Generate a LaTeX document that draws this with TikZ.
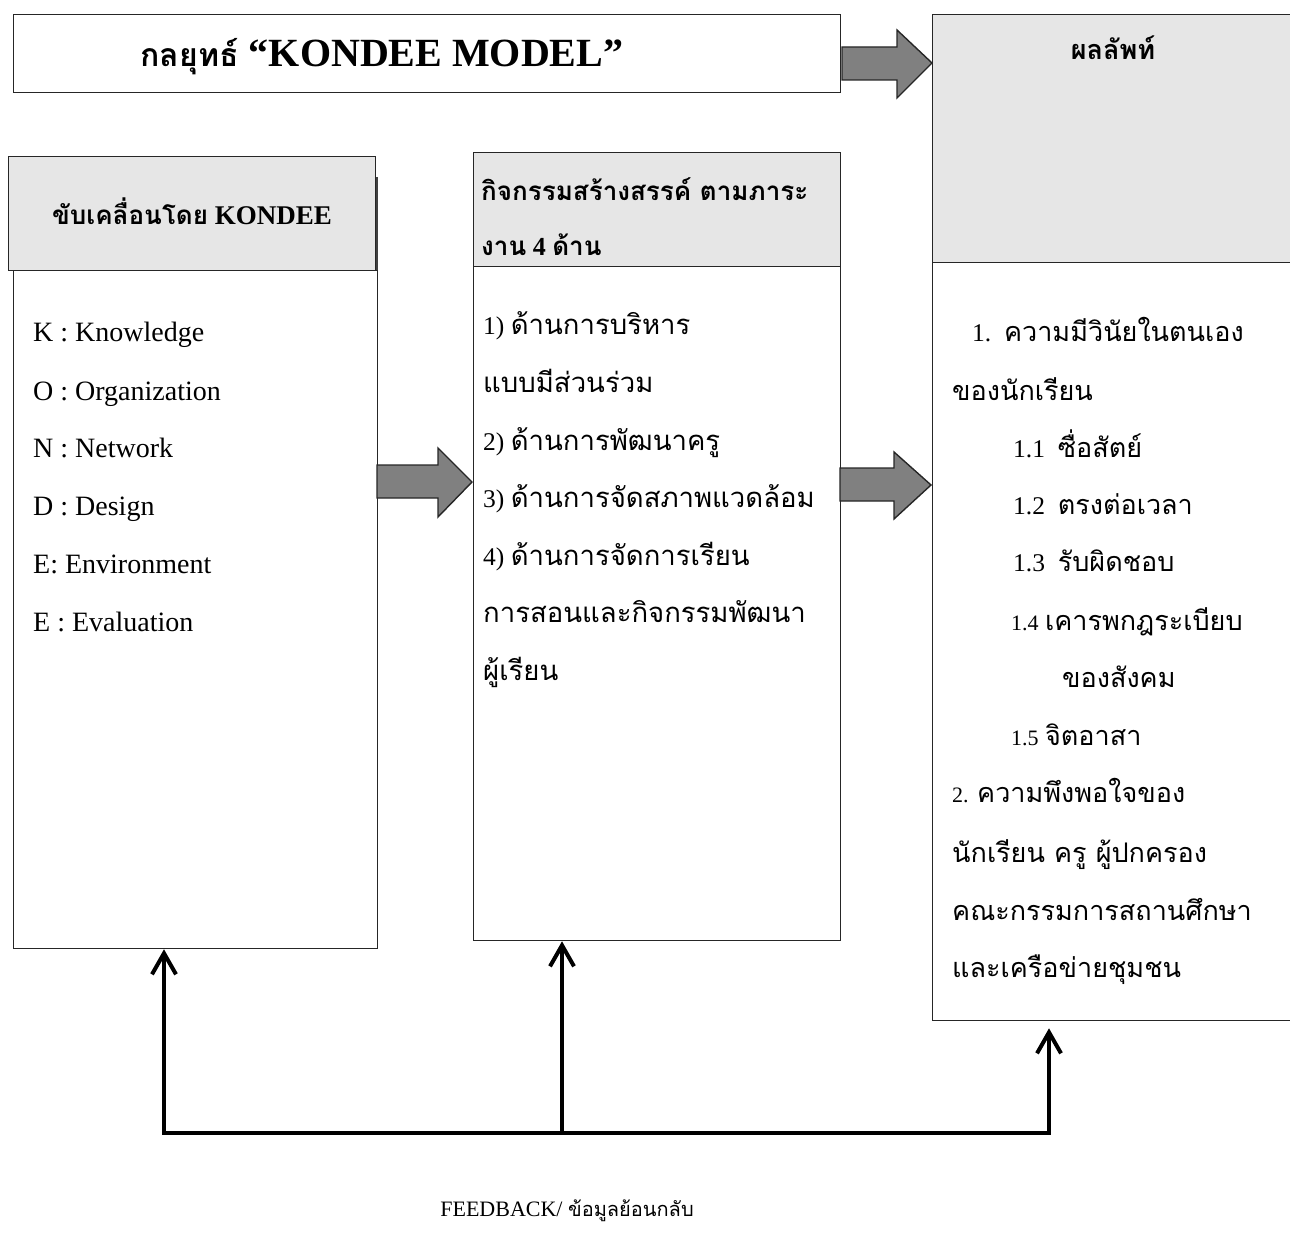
\documentclass[tikz,border=0pt]{standalone}
\usepackage{fontspec}
\setmainfont{Liberation Serif}
\newfontfamily\thai[Script=Thai]{Loma}
\usetikzlibrary{arrows.meta,calc}
\definecolor{hdrgray}{HTML}{E6E6E6}
\definecolor{arrgray}{HTML}{808080}
\newcommand\T[1]{{\thai #1}}
\newcommand\B[1]{{\thai\fontsize{27.5}{27.5}\selectfont #1}}
\newcommand\R[1]{{\thai\fontsize{27}{27}\selectfont #1}}
\tikzset{
  box/.style={draw=black!85, line width=1.3pt, inner sep=0pt, anchor=north west, fill=white},
  hdr/.style={box, fill=hdrgray},
  blk/.style={draw=black!85, line width=1.4pt, fill=arrgray, line join=miter},
  fb/.style={line width=4pt, draw=black},
  fbarrow/.style={fb, -{Straight Barb[length=21pt,width=24pt]}},
  txt/.style={anchor=base west, inner sep=0pt},
  ctxt/.style={anchor=base, inner sep=0pt},
  latin/.style={font=\fontsize{28}{28}\selectfont},
  body/.style={font=\fontsize{25.5}{25.5}\selectfont},
  hfont/.style={font=\fontsize{27}{27}\selectfont\bfseries},
}
\begin{document}
\begin{tikzpicture}[x=1pt,y=-1pt]
\useasboundingbox (0,0) rectangle (1290,1238);
% boxes
\node[box, minimum width=827pt, minimum height=78pt] (top) at (13,14) {};
\node[box, minimum width=364pt, minimum height=678pt] (lbody) at (13,270) {};
\draw[line width=2.5pt, black!75] (377,177) -- (377,270);
\node[hdr, minimum width=367pt, minimum height=114pt] (lhdr) at (8,156) {};
\node[box, minimum width=367pt, minimum height=674pt] (mbody) at (473,266) {};
\node[hdr, minimum width=367pt, minimum height=114pt] (mhdr) at (473,152) {};
\node[box, minimum width=380pt, minimum height=758pt] (rbody) at (932,262) {};
\node[hdr, minimum width=380pt, minimum height=248pt] (rhdr) at (932,14) {};
% block arrows
\path[blk] (842,47) -- (897,47) -- (897,30) -- (932,63) -- (897,98) -- (897,80) -- (842,80) -- cycle;
\path[blk] (377,465) -- (438,465) -- (438,448) -- (472,482) -- (438,517) -- (438,498) -- (377,498) -- cycle;
\path[blk] (840,468) -- (894,468) -- (894,452) -- (931,485) -- (894,519) -- (894,501) -- (840,501) -- cycle;
% feedback
\coordinate (fbL) at (164,1133);
\coordinate (fbM) at (562,1133);
\coordinate (fbR) at (1049,1133);
\draw[fb, line cap=rect] (fbL) -- (fbR);
\draw[fbarrow] (fbL) -- (fbL |- lbody.south);
\draw[fbarrow] (fbM) -- (fbM |- mbody.south);
\draw[fbarrow] (fbR) -- ($(fbR |- rbody.south)+(0,7)$);
\node[ctxt, font=\fontsize{22}{22}\selectfont] (fbtxt) at (567,1216) {FEEDBACK/ {\thai\fontsize{20}{20}\selectfont ข้อมูลย้อนกลับ}};
% titles
\node[ctxt, font=\fontsize{40}{40}\selectfont\bfseries] (title) at (382,67) {{\thai\fontsize{32}{32}\selectfont กลยุทธ์} “KONDEE MODEL”};
\node[ctxt, hfont] (ltitle) at (192,225) {{\thai\fontsize{26}{26}\selectfont ขับเคลื่อนโดย} KONDEE};
\node[txt, hfont, font=\fontsize{26}{26}\selectfont\bfseries] (mtitle1) at (481,201) {\T{กิจกรรมสร้างสรรค์ ตามภาระ}};
\node[txt, hfont, font=\fontsize{26}{26}\selectfont\bfseries] (mtitle2) at (481,256) {\T{งาน} 4 \T{ด้าน}};
\node[ctxt, hfont] (rtitle) at (1113,60) {\T{ผลลัพท์}};
% left list
\node[txt, latin] (k1) at (33,342) {K : Knowledge};
\node[txt, latin] (k2) at (33,400) {O : Organization};
\node[txt, latin] (k3) at (33,457) {N : Network};
\node[txt, latin] (k4) at (33,515) {D : Design};
\node[txt, latin] (k5) at (33,573) {E: Environment};
\node[txt, latin] (k6) at (33,631) {E : Evaluation};
% middle list
\node[txt, body] (m1) at (483,335) {1) \B{ด้านการบริหาร}};
\node[txt, body] (m2) at (483,392) {\B{แบบมีส่วนร่วม}};
\node[txt, body] (m3) at (483,450) {2) \B{ด้านการพัฒนาครู}};
\node[txt, body] (m4) at (483,507) {3) \B{ด้านการจัดสภาพแวดล้อม}};
\node[txt, body] (m5) at (483,565) {4) \B{ด้านการจัดการเรียน}};
\node[txt, body] (m6) at (483,622) {\B{การสอนและกิจกรรมพัฒนา}};
\node[txt, body] (m7) at (483,680) {\B{ผู้เรียน}};
% right list
\node[txt, body] (r1) at (972,342) {1.\ \ \R{ความมีวินัยในตนเอง}};
\node[txt, body] (r2) at (952,400) {\R{ของนักเรียน}};
\node[txt, body] (r3) at (1013,457) {1.1\ \ \R{ซื่อสัตย์}};
\node[txt, body] (r4) at (1013,514) {1.2\ \ \R{ตรงต่อเวลา}};
\node[txt, body] (r5) at (1013,571) {1.3\ \ \R{รับผิดชอบ}};
\node[txt, body] (r6) at (1011,630) {{\fontsize{22}{22}\selectfont 1.4} \R{เคารพกฎระเบียบ}};
\node[txt, body] (r7) at (1062,687) {\R{ของสังคม}};
\node[txt, body] (r8) at (1011,745) {{\fontsize{22}{22}\selectfont 1.5} \R{จิตอาสา}};
\node[txt, body] (r9) at (952,802) {{\fontsize{22}{22}\selectfont 2.} \R{ความพึงพอใจของ}};
\node[txt, body] (r10) at (952,862) {\R{นักเรียน ครู ผู้ปกครอง}};
\node[txt, body] (r11) at (952,920) {\R{คณะกรรมการสถานศึกษา}};
\node[txt, body] (r12) at (952,977) {\R{และเครือข่ายชุมชน}};
\end{tikzpicture}
\end{document}
